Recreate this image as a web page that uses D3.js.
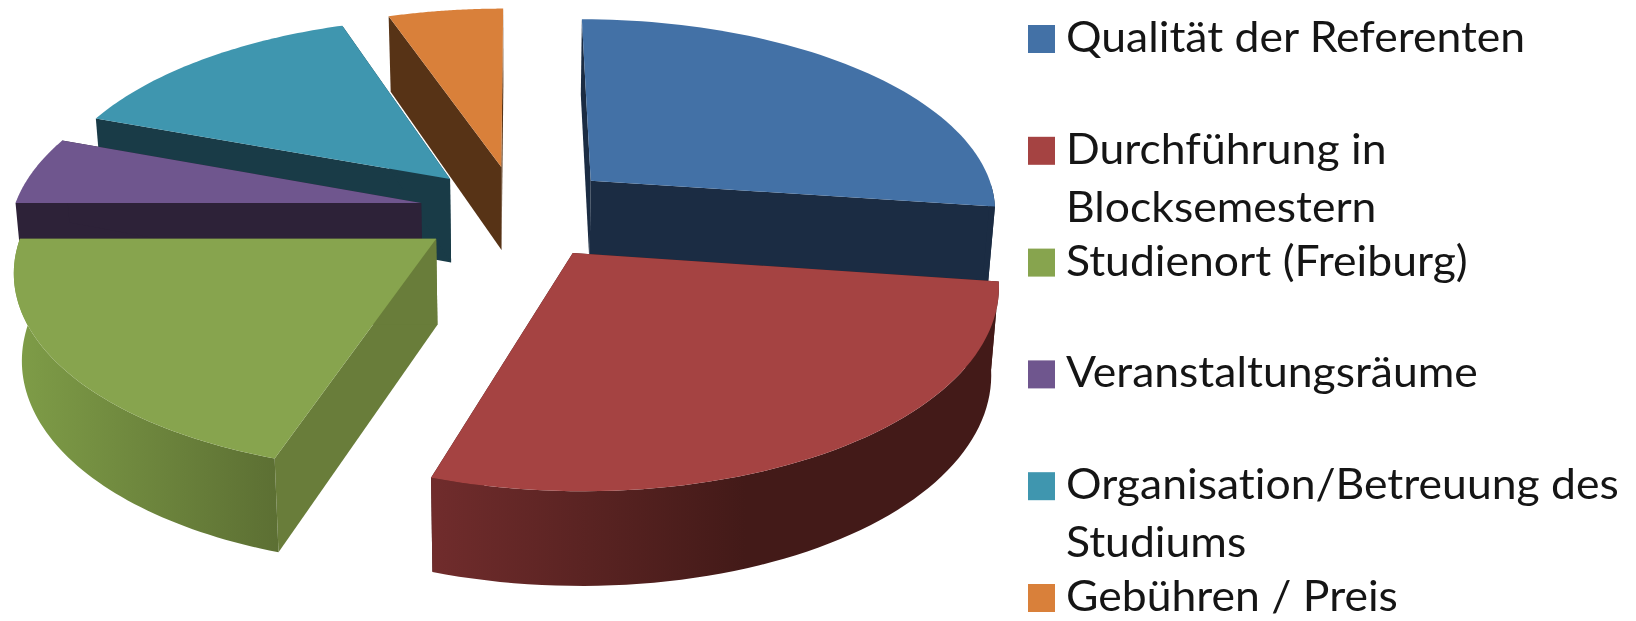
<!DOCTYPE html>
<html lang="de">
<head>
    <meta charset="UTF-8">
    <title>Kreisdiagramm</title>
    <script src="https://d3js.org/d3.v7.min.js"></script>
    <style>
        body { margin: 0; background: #fff; }
        svg { display: block; filter: blur(0.6px); }
        .legend text { font-family: Lato, sans-serif; font-size: 42px; fill: #151515; font-variant-ligatures: none; }
    </style>
</head>
<body>
    <div id="chart"></div>

    <script>
        var categories = ["Qualität der Referenten", "Durchführung in Blocksemestern", "Studienort (Freiburg)",
            "Veranstaltungsräume", "Organisation/Betreuung des Studiums", "Gebühren / Preis"];
        var values = [27.2, 27.8, 20, 5.6, 14.1, 5.3];
        var legendLines = [["Qualität der Referenten"], ["Durchführung in", "Blocksemestern"], ["Studienort (Freiburg)"],
            ["Veranstaltungsräume"], ["Organisation/Betreuung des", "Studiums"], ["Gebühren / Preis"]];

        var topColors = ["#4371a6", "#a54342", "#87a44e", "#6f568e", "#3f96af", "#d9803a"];
        var wallColors = ["#1b2c43", "#431a18", "#697d3a", "#2d2238", "#193b47", "#573316"];

        var width = 1636, height = 621;

        // pie geometry, the flat disc is tipped back with a little perspective
        var cx = 517, cy = 211, rx = 408, ry = 192, persp = 0.14;
        var explodes = [0.245, 0.25, 0.24, 0.24, 0.24, 0.24];

        var svg = d3.select("#chart").append("svg")
            .attr("width", width)
            .attr("height", height);

        function project(p) {
            var w = 1 - persp * p.y;
            return [cx + rx * p.x / w, cy + ry * p.y / w];
        }

        // same point on the lower face of the pie
        function projectBottom(p) {
            var s = project(p);
            return [s[0] - (s[0] - cx) * 0.016, s[1] + 85 + 8 * p.y];
        }

        var slices = d3.pie().sort(null)(values);
        var line = d3.line();

        function apex(d) {
            var mid = (d.startAngle + d.endAngle) / 2;
            return {x: explodes[d.index] * Math.sin(mid), y: -explodes[d.index] * Math.cos(mid)};
        }

        function outerPoints(d) {
            var c = apex(d);
            return d3.range(0, 61).map(function(i) {
                var a = d.startAngle + (d.endAngle - d.startAngle) * i / 60;
                return {x: c.x + Math.sin(a), y: c.y - Math.cos(a), a: a};
            });
        }

        function wall(upper) {
            return upper.map(project).concat(upper.slice().reverse().map(projectBottom));
        }

        // shading of the round outer walls
        var defs = svg.append("defs");
        var wallGradients = {
            1: {x1: 434, x2: 745, from: "#702c2c", to: "#431a18"},
            2: {x1: 20, x2: 279, from: "#7e9c47", to: "#5c6f33"}
        };
        Object.keys(wallGradients).forEach(function(k) {
            var g = wallGradients[k];
            var grad = defs.append("linearGradient")
                .attr("id", "wall" + k)
                .attr("gradientUnits", "userSpaceOnUse")
                .attr("x1", g.x1).attr("x2", g.x2)
                .attr("y1", 0).attr("y2", 0);
            grad.append("stop").attr("offset", 0).attr("stop-color", g.from);
            grad.append("stop").attr("offset", 1).attr("stop-color", g.to);
        });

        // back slices first so the front ones cover them
        var drawOrder = [5, 4, 3, 0, 2, 1];
        var pie = svg.append("g").attr("class", "pie");

        drawOrder.forEach(function(i) {
            var d = slices[i];
            var pts = outerPoints(d);
            var c = apex(d);
            var g = pie.append("g");

            [pts[0], pts[pts.length - 1]].forEach(function(edge) {
                g.append("path")
                    .attr("d", line(wall([c, edge])) + "Z")
                    .attr("fill", wallColors[i]);
            });

            // only the part of the rim that faces the viewer
            var front = pts.filter(function(p) { return -Math.cos(p.a) > 0; });
            if (front.length > 1) {
                g.append("path")
                    .attr("d", line(wall(front)) + "Z")
                    .attr("fill", wallGradients[i] ? "url(#wall" + i + ")" : wallColors[i]);
            }

            g.append("path")
                .attr("d", line([c].concat(pts).map(project)) + "Z")
                .attr("fill", topColors[i]);
        });

        // legend
        var legendY = d3.scalePoint().domain(categories).range([52, 611]);
        var legend = svg.append("g").attr("class", "legend");

        categories.forEach(function(name, i) {
            var y = legendY(name);
            legend.append("rect")
                .attr("x", 1028)
                .attr("y", y - 27)
                .attr("width", 27)
                .attr("height", 28)
                .attr("fill", topColors[i]);
            legendLines[i].forEach(function(txt, j) {
                legend.append("text")
                    .attr("transform", "translate(1066," + (y + j * 58) + ") scale(1.06,1)")
                    .text(txt);
            });
        });
    </script>
</body>
</html>
